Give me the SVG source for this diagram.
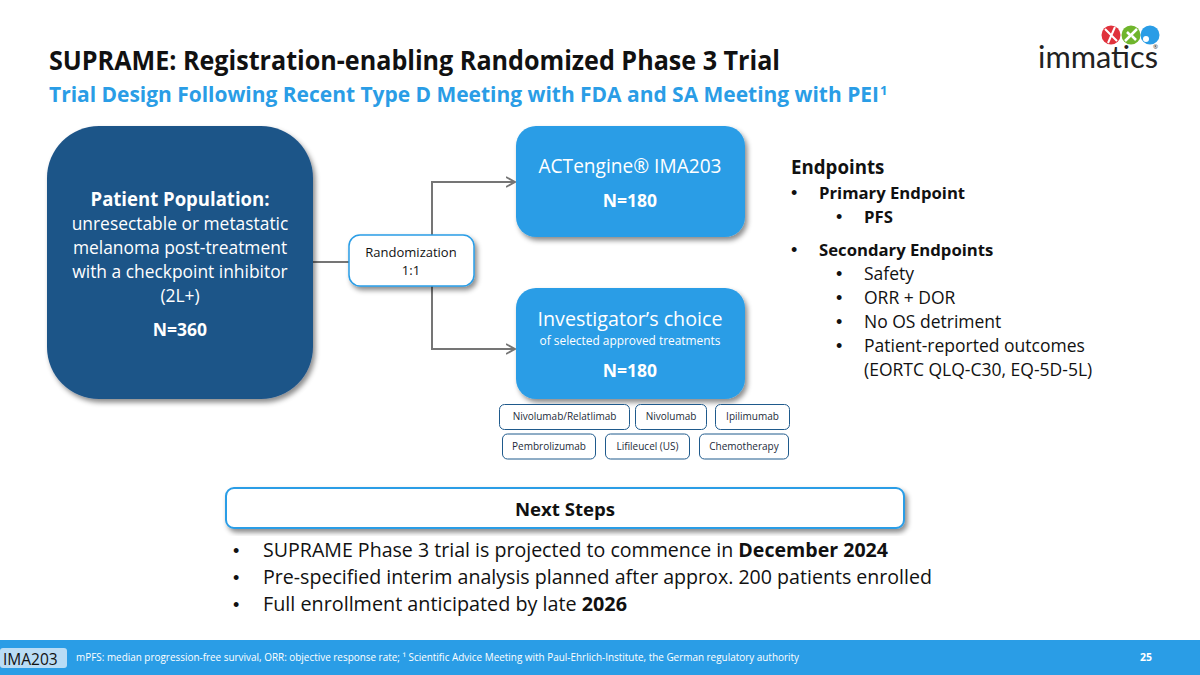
<svg xmlns="http://www.w3.org/2000/svg" width="1200" height="675" viewBox="0 0 1200 675">
<style>
text{font-family:"Open Sans","Noto Sans","Liberation Sans",sans-serif;fill:#111}
.b{font-weight:700}
.w{fill:#fff}
.m{text-anchor:middle}
.t{font-size:17.4px}
.n{font-size:17.5px}
.d{font-size:16.700px}
.c{font-size:10px;fill:#1c2b39}
.u{font-family:"Liberation Sans",sans-serif;font-size:18px}
.pill{fill:#fff;stroke:#1f5a8c;stroke-width:1}
.blue{fill:#2a9de6}
.conn{fill:none;stroke:#757575;stroke-width:2}
</style>
<defs>
<filter id="sh" x="-10%" y="-10%" width="125%" height="130%"><feDropShadow dx="2.500" dy="3.500" stdDeviation="2.500" flood-color="#000" flood-opacity="0.45"/></filter>
<marker id="arr" viewBox="0 0 10 12" refX="9.500" refY="6" markerWidth="10" markerHeight="12" markerUnits="userSpaceOnUse" orient="auto"><path d="M0.500 1L9.500 6L0.500 11" fill="none" stroke="#757575" stroke-width="1.800"/></marker>
</defs>
<rect width="1200" height="675" fill="#fff"/>
<g id="title">
<text x="49" y="70" class="b" font-size="26.500" textLength="731" lengthAdjust="spacingAndGlyphs">SUPRAME: Registration-enabling Randomized Phase 3 Trial</text>
<text x="49" y="102" class="b" font-size="21.500" style="fill:#2a9de6" textLength="830" lengthAdjust="spacingAndGlyphs">Trial Design Following Recent Type D Meeting with FDA and SA Meeting with PEI</text>
<text x="880" y="95" class="b" font-size="13" style="fill:#2a9de6">1</text>
</g>
<g id="logo">
<circle cx="1111" cy="35" r="9.500" fill="#e0323c"/>
<path d="M1105 29L1117 41M1115 27L1108 43" stroke="#fff" stroke-width="2" fill="none"/>
<circle cx="1131" cy="35" r="9.500" fill="#6fb52c"/>
<path d="M1125 41L1137 29M1127 32L1130 35M1132 36L1136 40" stroke="#fff" stroke-width="2.500" fill="none"/>
<circle cx="1150" cy="35" r="9.500" fill="#2a9de6"/>
<circle cx="1146" cy="39" r="3" fill="#fff"/>
<text x="1038" y="68" font-size="31" style="font-family:Lato,'Open Sans',sans-serif;font-weight:400;fill:#222" textLength="120" lengthAdjust="spacingAndGlyphs">immatics</text>
<text x="1153" y="49" font-size="6" style="fill:#222">®</text>
</g>
<g id="connectors">
<path class="conn" d="M312 262H349"/>
<path class="conn" d="M432 235V182H515" marker-end="url(#arr)"/>
<path class="conn" d="M432 286V349H515" marker-end="url(#arr)"/>
</g>
<g id="patient-population">
<rect x="47" y="126" width="266" height="273" rx="52" fill="#1f5488" filter="url(#sh)"/>
<text x="180" y="206" class="b w m" font-size="19.500" textLength="179" lengthAdjust="spacingAndGlyphs">Patient Population:</text>
<text x="180" y="230" class="w m t">unresectable or metastatic</text>
<text x="180" y="254" class="w m t">melanoma post-treatment</text>
<text x="180" y="278" class="w m t">with a checkpoint inhibitor</text>
<text x="180" y="302" class="w m t">(2L+)</text>
<text x="180" y="336" class="b w m n">N=360</text>
</g>
<g id="randomization">
<rect x="349" y="235" width="125" height="51" rx="11" fill="#fff" stroke="#2a9de6" stroke-width="1.500" filter="url(#sh)"/>
<text x="411" y="257" class="m" font-size="13">Randomization</text>
<text x="411" y="275" class="m" font-size="13">1:1</text>
</g>
<g id="actengine">
<rect x="516" y="126" width="229" height="111" rx="20" class="blue" filter="url(#sh)"/>
<text x="630" y="173" class="w m" font-size="20" textLength="183" lengthAdjust="spacingAndGlyphs">ACTengine® IMA203</text>
<text x="630" y="207" class="b w m n">N=180</text>
</g>
<g id="investigator">
<rect x="516" y="288" width="229" height="111" rx="20" class="blue" filter="url(#sh)"/>
<text x="630" y="326" class="w m" font-size="20" textLength="185" lengthAdjust="spacingAndGlyphs">Investigator’s choice</text>
<text x="630" y="345" class="w m" font-size="11.900">of selected approved treatments</text>
<text x="630" y="377" class="b w m n">N=180</text>
</g>
<g id="t1"><rect x="499.500" y="404.500" width="130" height="25" rx="5" class="pill"/><text x="564.500" y="420" class="m c">Nivolumab/Relatlimab</text></g>
<g id="t2"><rect x="635.500" y="404.500" width="71" height="25" rx="5" class="pill"/><text x="671" y="420" class="m c">Nivolumab</text></g>
<g id="t3"><rect x="715.500" y="404.500" width="74" height="25" rx="5" class="pill"/><text x="752.500" y="420" class="m c">Ipilimumab</text></g>
<g id="t4"><rect x="502.500" y="434" width="93" height="25" rx="5" class="pill"/><text x="549" y="450" class="m c">Pembrolizumab</text></g>
<g id="t5"><rect x="605.500" y="434" width="84" height="25" rx="5" class="pill"/><text x="647.500" y="450" class="m c">Lifileucel (US)</text></g>
<g id="t6"><rect x="699.500" y="434" width="89" height="25" rx="5" class="pill"/><text x="744" y="450" class="m c">Chemotherapy</text></g>
<g id="endpoints">
<text x="791" y="174" class="b" font-size="18.700">Endpoints</text>
<text x="791" y="199" class="u">•</text><text x="819" y="199" class="b d">Primary Endpoint</text>
<text x="836" y="223" class="u">•</text><text x="864" y="223" class="b d">PFS</text>
<text x="791" y="256" class="u">•</text><text x="819" y="256" class="b d">Secondary Endpoints</text>
<text x="836" y="280" class="u">•</text><text x="864" y="280" font-size="17.500">Safety</text>
<text x="836" y="304" class="u">•</text><text x="864" y="304" font-size="17.500">ORR + DOR</text>
<text x="836" y="328" class="u">•</text><text x="864" y="328" font-size="17.500">No OS detriment</text>
<text x="836" y="352" class="u">•</text><text x="864" y="352" font-size="17.500">Patient-reported outcomes</text>
<text x="864" y="376" font-size="17.500">(EORTC QLQ-C30, EQ-5D-5L)</text>
</g>
<g id="next-steps">
<rect x="226" y="488" width="678" height="40" rx="8" fill="#fff" stroke="#2a9de6" stroke-width="2" filter="url(#sh)"/>
<text x="565" y="516" class="b m" font-size="18.600">Next Steps</text>
</g>
<g id="next-steps-list" font-size="20">
<text x="233" y="557" class="u">•</text><text x="263" y="557" textLength="625" lengthAdjust="spacingAndGlyphs">SUPRAME Phase 3 trial is projected to commence in <tspan class="b">December 2024</tspan></text>
<text x="233" y="584" class="u">•</text><text x="263" y="584" textLength="669" lengthAdjust="spacingAndGlyphs">Pre-specified interim analysis planned after approx. 200 patients enrolled</text>
<text x="233" y="611" class="u">•</text><text x="263" y="611" textLength="364" lengthAdjust="spacingAndGlyphs">Full enrollment anticipated by late <tspan class="b">2026</tspan></text>
</g>
<g id="footer">
<rect y="640" width="1200" height="35" fill="#2a9de6"/>
<rect x="0" y="648" width="67" height="20" rx="3" fill="#b9dcf5"/>
<text x="3" y="665" font-size="15.500">IMA203</text>
<text x="76" y="661" class="w" font-size="10.500" textLength="723" lengthAdjust="spacingAndGlyphs">mPFS: median progression-free survival, ORR: objective response rate; ¹ Scientific Advice Meeting with Paul-Ehrlich-Institute, the German regulatory authority</text>
<text x="1146" y="661" class="b w m" font-size="10.500">25</text>
</g>
</svg>
